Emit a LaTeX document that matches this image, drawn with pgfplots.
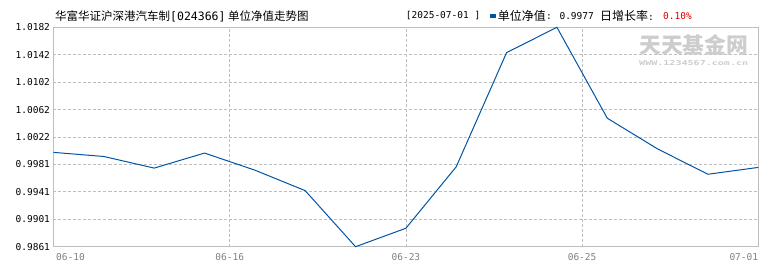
\documentclass[border=0pt]{standalone}
\usepackage{fontspec}
\usepackage{graphicx}
\usepackage{pgfplots}
\pgfplotsset{compat=1.18}
\setmainfont{Noto Sans CJK SC}
\newfontfamily\cjk{Noto Sans CJK SC}
\newfontfamily\mono{DejaVu Sans Mono}
\definecolor{linec}{RGB}{0,85,165}
\definecolor{gridc}{RGB}{190,190,190}
\definecolor{framec}{RGB}{190,190,190}
\definecolor{xlab}{RGB}{128,128,128}
\definecolor{wm}{RGB}{205,205,205}
\definecolor{redc}{RGB}{220,0,0}
\begin{document}
\begin{tikzpicture}
\path[use as bounding box] (-53.5pt,-23.3pt) rectangle (716.5pt,246.7pt);
\begin{axis}[
  at={(0pt,0pt)}, anchor=south west,
  scale only axis, width=704.8pt, height=219.4pt,
  xmin=0, xmax=14, ymin=0.9861, ymax=1.0182,
  xtick={0,3.5,7,10.5,14}, xticklabels={},
  ytick={0.9861,0.990113,0.994125,0.998138,1.00215,1.00616,1.01018,1.01419,1.0182},
  yticklabels={0.9861,0.9901,0.9941,0.9981,1.0022,1.0062,1.0102,1.0142,1.0182},
  major tick length=0pt,
  grid=major,
  major grid style={gridc, line width=0.8pt, dash pattern=on 3pt off 2pt},
  axis line style={framec, line width=1pt},
  yticklabel style={font=\mono\fontsize{9.5}{10}\selectfont, text=black},
  clip=false,
]
\addplot[linec, line width=1pt] coordinates {
(0,0.9999) (1,0.9993) (2,0.9976) (3,0.9998) (4,0.9973) (5,0.9943) (6,0.9861)
(7,0.9888) (8,0.9978) (9,1.0145) (10,1.0182) (11,1.0049) (12,1.0004) (13,0.9967) (14,0.9977)
};
\end{axis}
% x labels
\begin{scope}[every node/.style={text=xlab, font=\mono\fontsize{9.5}{10}\selectfont, inner sep=0pt}]
\node[anchor=west] at (2.5pt,-10.3pt) {06-10};
\node at (176.2pt,-10.3pt) {06-16};
\node at (352.4pt,-10.3pt) {06-23};
\node at (528.6pt,-10.3pt) {06-25};
\node[anchor=east] at (704.8pt,-10.3pt) {07-01};
\end{scope}
% watermark
\node[inner sep=0pt, anchor=west, text=wm] at (585.5pt,201.2pt) {\resizebox{109pt}{19pt}{\cjk\bfseries 天天基金网}};
\node[inner sep=0pt, anchor=west, text=wm] at (585.5pt,184pt) {\resizebox{109pt}{5pt}{\mono\bfseries WWW.1234567.com.cn}};
% title
\node[inner sep=0pt, anchor=west] at (1.5pt,230.7pt) {\cjk\fontsize{11.5}{12}\selectfont 华富华证沪深港汽车制{\mono [024366]} 单位净值走势图};
% header right
\node[inner sep=0pt, anchor=west] at (352.2pt,231pt) {\mono\fontsize{9.5}{10}\selectfont [2025-07-01 ]};
\fill[linec] (436.5pt,229pt) rectangle (442.5pt,233pt);
\node[inner sep=0pt, anchor=west] at (444.2pt,231pt) {\cjk\fontsize{12}{12}\selectfont 单位净值};
\node[inner sep=0pt, anchor=west] at (492.5pt,231pt) {\mono\fontsize{9.5}{10}\selectfont : 0.9977};
\node[inner sep=0pt, anchor=west] at (546.5pt,231pt) {\cjk\fontsize{12}{12}\selectfont 日增长率\mono\fontsize{9.5}{10}\selectfont :};
\node[inner sep=0pt, anchor=west, text=redc] at (609.5pt,231pt) {\mono\fontsize{9.5}{10}\selectfont 0.10\%};
\end{tikzpicture}
\end{document}
